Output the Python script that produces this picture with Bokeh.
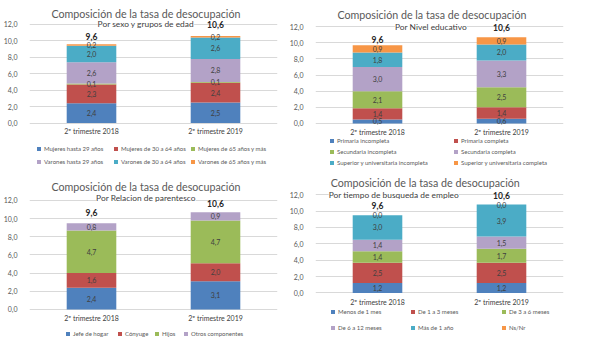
from bokeh.plotting import figure
from bokeh.models import ColumnDataSource, Range1d, FixedTicker, Label, Legend, LegendItem
from bokeh.layouts import gridplot
from bokeh.core.properties import value
from bokeh.embed import file_html
from bokeh.resources import INLINE

# ---------------- data ----------------
periods = ["2º trimestre 2018", "2º trimestre 2019"]
y_ticks = [0, 2, 4, 6, 8, 10, 12]
y_tick_labels = ["0,0", "2,0", "4,0", "6,0", "8,0", "10,0", "12,0"]
main_title = "Composición de la tasa de desocupación"
palette = ["#4F81BD", "#C0504D", "#9BBB59", "#B3A2C7", "#4BACC6", "#F79646"]

sexo_subtitle = "Por sexo y grupos de edad"
sexo_series = ["Mujeres hasta 29 años", "Mujeres de 30 a 64 años", "Mujeres de 65 años y más",
               "Varones hasta 29 años", "Varones de 30 a 64 años", "Varones de 65 años y más"]
sexo_2018 = [2.4, 2.3, 0.1, 2.6, 2.0, 0.2]
sexo_2019 = [2.5, 2.4, 0.1, 2.8, 2.6, 0.2]
sexo_total = [9.6, 10.6]

educ_subtitle = "Por Nivel educativo"
educ_series = ["Primaria incompleta", "Primaria completa", "Secundaria incompleta",
               "Secundaria completa", "Superior y universitaria incompleta",
               "Superior y universitaria completa"]
educ_2018 = [0.5, 1.4, 2.1, 3.0, 1.8, 0.9]
educ_2019 = [0.6, 1.4, 2.5, 3.3, 2.0, 0.9]
educ_total = [9.6, 10.6]

paren_subtitle = "Por Relacion de parentesco"
paren_series = ["Jefe de hogar", "Cónyuge", "Hijos", "Otros componentes"]
paren_2018 = [2.4, 1.6, 4.7, 0.8]
paren_2019 = [3.1, 2.0, 4.7, 0.9]
paren_total = [9.6, 10.6]

busq_subtitle = "Por tiempo de busqueda de empleo"
busq_series = ["Menos de 1 mes", "De 1 a 3 meses", "De 3 a 6 meses",
               "De 6 a 12 meses", "Más de 1 año", "Ns/Nr"]
busq_2018 = [1.2, 2.5, 1.4, 1.4, 3.0, 0.0]
busq_2019 = [1.2, 2.5, 1.7, 1.5, 3.9, 0.0]
busq_total = [9.6, 10.6]

# ---------------- layout ----------------
W, H = 286, 172
KX, KY = W / 294.5, H / 180.0
FONT = "Lato"


def fmt(v):
    return f"{v:.1f}".replace(".", ",")


def make_panel(subtitle, series, v18, v19, totals, g):
    fl = round(25 * KX)
    fr_border = round(W - 285 * KX)
    fr = W - fr_border
    fw = fr - fl
    y0p = g["y0"] * KY          # pixel row of value 0 (from figure top)
    y12p = g["y12"] * KY        # pixel row of value 12
    sc = (y0p - y12p) / 12.0    # px per unit
    ystart = -(H - y0p) / sc
    yend = y0p / sc

    def dx(xr):
        return (xr * KX - fl) / fw * 2.0

    def dy(yr):
        return (y0p - yr * KY) / sc

    p = figure(width=W, height=H, x_range=periods, y_range=Range1d(ystart, yend),
               output_backend="svg", toolbar_location=None, x_axis_location=None,
               min_border_left=fl, min_border_right=fr_border,
               min_border_top=0, min_border_bottom=0)
    p.outline_line_color = None
    p.xgrid.visible = False
    p.ygrid.grid_line_color = "#D9D9D9"
    p.ygrid.grid_line_width = 1

    p.yaxis.ticker = FixedTicker(ticks=y_ticks)
    p.yaxis.major_label_overrides = dict(zip(y_ticks, y_tick_labels))
    p.yaxis.axis_line_color = None
    p.yaxis.major_tick_line_color = None
    p.yaxis.minor_tick_line_color = None
    p.yaxis.major_label_standoff = 6
    p.yaxis.major_label_text_font = FONT
    p.yaxis.major_label_text_font_size = "7px"
    p.yaxis.major_label_text_color = "#595959"

    keys = [f"s{i}" for i in range(len(series))]
    data = {"period": periods}
    for k, a, b in zip(keys, v18, v19):
        data[k] = [a, b]
    src = ColumnDataSource(data)
    colors = palette[:len(series)]
    rends = p.vbar_stack(keys, x="period", width=0.4, source=src,
                         fill_color=colors, line_color=None)

    # category labels (x axis) under the zero line
    p.text(x=periods, y=[0, 0], text=periods, y_offset=g["cat_y"] * KY - y0p,
           text_font=value(FONT), text_font_size="7px", text_color="#404040",
           text_align="center", text_baseline="middle")

    # segment labels
    lx, ly, lt = [], [], []
    for per, vals in zip(periods, [v18, v19]):
        acc = 0.0
        for v in vals:
            lx.append(per)
            ly.append(acc + v / 2.0)
            lt.append(fmt(v))
            acc += v
    p.text(x=lx, y=ly, text=lt, text_font=value(FONT), text_font_size="7px",
           text_color="#404040", text_align="center", text_baseline="middle")

    # totals
    tsrc = ColumnDataSource(dict(x=periods, y=totals, t=[fmt(t) for t in totals],
                                 off=[o * KY for o in g["tot_off"]]))
    p.text(x="x", y="y", text="t", y_offset="off", source=tsrc,
           text_font=value(FONT), text_font_style="bold", text_font_size="8.5px",
           text_color="#262626", text_align="center", text_baseline="middle")

    # title & subtitle
    p.add_layout(Label(x=dx(g["title"][0]), y=dy(g["title"][1]), text=main_title,
                       text_font=FONT, text_font_size="10.7px", text_color="#595959",
                       text_align="center", text_baseline="middle"))
    p.add_layout(Label(x=dx(g["sub"][0]), y=dy(g["sub"][1]), text=subtitle,
                       text_font=FONT, text_font_size="8.4px", text_color="#404040",
                       text_align="center", text_baseline="middle",
                       background_fill_color="white"))

    # legends: one vertical legend per column
    cols, rows = g["leg_cols"], g["leg_rows"]
    ncol = len(cols)
    L = 8
    pitch = (rows[1] - rows[0]) * KY if len(rows) > 1 else 12
    S = max(0, int(round(pitch - L)))
    for c, cx in enumerate(cols):
        idx = [i for i in range(len(series)) if i % ncol == c]
        if not idx:
            continue
        last_row = rows[(idx[-1]) // ncol]
        ybot = H - (last_row * KY + L / 2.0)
        items = [LegendItem(label=series[i], renderers=[rends[i]]) for i in idx]
        leg = Legend(items=items, location=(round(cx * KX - fl), round(ybot)),
                     orientation="vertical",
                     padding=0, margin=0, spacing=S, label_height=L,
                     glyph_height=5, glyph_width=5, label_standoff=3,
                     label_text_font=FONT, label_text_font_size="6px",
                     label_text_color="#595959", border_line_color=None,
                     background_fill_alpha=0)
        p.add_layout(leg)
    return p


g1 = dict(y12=25, y0=128.3, title=(147, 13.3), sub=(147, 25), tot_off=[-8, -12],
          cat_y=137, leg_cols=[32, 111, 190], leg_rows=[154, 168])
g2 = dict(y12=27.4, y0=128.7, title=(147, 15), sub=(146, 28), tot_off=[-7.2, -11.2],
          cat_y=138, leg_cols=[39, 167], leg_rows=[147, 158.5, 170])
g3 = dict(y12=29.3, y0=143.3, title=(147, 15), sub=(147, 26.7), tot_off=[-10, -10.6],
          cat_y=152, leg_cols=[62, 115, 153, 183], leg_rows=[168])
g4 = dict(y12=23.3, y0=126, title=(140, 10), sub=(107, 24), tot_off=[-9.8, -11.3],
          cat_y=135, leg_cols=[40, 123, 216], leg_rows=[145.7, 162.3])

p1 = make_panel(sexo_subtitle, sexo_series, sexo_2018, sexo_2019, sexo_total, g1)
p2 = make_panel(educ_subtitle, educ_series, educ_2018, educ_2019, educ_total, g2)
p3 = make_panel(paren_subtitle, paren_series, paren_2018, paren_2019, paren_total, g3)
p4 = make_panel(busq_subtitle, busq_series, busq_2018, busq_2019, busq_total, g4)

grid = gridplot([[p1, p2], [p3, p4]], toolbar_location=None)
open("out.html", "w").write(file_html(grid, INLINE))
